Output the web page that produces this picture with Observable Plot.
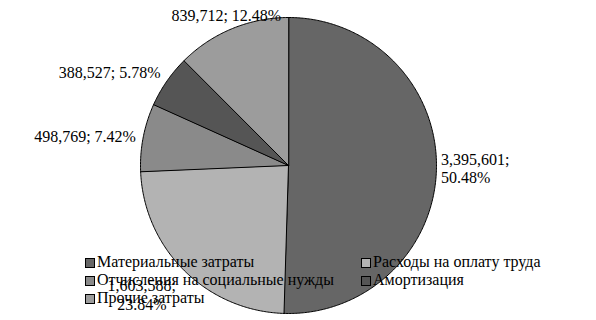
<!DOCTYPE html>
<html><head><meta charset="utf-8">
<script src="https://cdn.jsdelivr.net/npm/d3@7"></script>
<script src="https://cdn.jsdelivr.net/npm/@observablehq/plot@0.6"></script>
<style>
body{margin:0;background:#fff;}
#wrap{position:relative;width:596px;height:320px;overflow:hidden;}
.lg{position:absolute;font-size:16px;line-height:18px;color:#000;white-space:nowrap;}
.sw{position:absolute;left:0;top:5px;width:8px;height:8px;border:1px solid #000;}
.lt{position:absolute;left:12px;top:0;}
</style>
</head><body><div id="wrap" style="font-family:'Liberation Serif'"></div>
<script>
const categories = ["Материальные затраты","Расходы на оплату труда","Отчисления на социальные нужды","Амортизация","Прочие затраты"];
const values = [3395601, 1603588, 498769, 388527, 839712];
const colors = ["#666666","#b3b3b3","#8a8a8a","#555555","#9c9c9c"];
const legendOrder = [0,1,2,3,4];

// label placement (radius factor, angle shift in degrees, anchor, line break)
const labelLayout = [
  {r:1.03, shift:0, anchor:"start", br:true},
  {r:1.32, shift:4, anchor:"middle", br:true},
  {r:1.05, shift:0, anchor:"end", br:false},
  {r:1.07, shift:1.5, anchor:"end", br:false},
  {r:1.1, shift:0, anchor:"middle", br:false}
];

const SERIF = "Liberation Serif";
const total = d3.sum(values);
const arcs = d3.pie().sort(null).value(d => d)(values);
const poly = [];
arcs.forEach((a, i) => {
  poly.push({cat: categories[i], x: 0, y: 0});
  const n = Math.max(2, Math.ceil((a.endAngle - a.startAngle) / 0.01));
  for (let k = 0; k <= n; k++) {
    const t = a.startAngle + (a.endAngle - a.startAngle) * k / n;
    poly.push({cat: categories[i], x: Math.sin(t), y: Math.cos(t)});
  }
});
const fmtN = d3.format(",");
const fmtP = v => (v * 100).toFixed(2) + "%";
const labels = arcs.map((a, i) => {
  const L = labelLayout[i];
  const m = (a.startAngle + a.endAngle) / 2 + L.shift * Math.PI / 180;
  return {
    x: L.r * Math.sin(m), y: L.r * Math.cos(m), anchor: L.anchor,
    text: fmtN(values[i]) + ";" + (L.br ? "\n" : " ") + fmtP(values[i] / total)
  };
});

const font = {fontFamily: SERIF, fontSize: 16, fill: "#000", lineHeight: 1.15};
const chart = Plot.plot({
  width: 596, height: 320,
  marginLeft: 140, marginRight: 160, marginTop: 17, marginBottom: 7,
  x: {domain: [-1, 1], axis: null},
  y: {domain: [-1, 1], axis: null},
  color: {domain: categories, range: colors},
  style: {background: "#fff", fontFamily: SERIF},
  marks: [
    Plot.line(poly, {x: "x", y: "y", z: "cat", fill: "cat", stroke: "#000", strokeWidth: 1, curve: "linear-closed"}),
    ...["start", "middle", "end"].map(an =>
      Plot.text(labels.filter(d => d.anchor === an), {x: "x", y: "y", text: "text", textAnchor: an, lineAnchor: "middle", ...font}))
  ]
});
const wrap = document.getElementById("wrap");
wrap.appendChild(chart);

const pos = [[85,253],[361,253],[85,271],[361,271],[85,289]];
legendOrder.forEach((i, k) => {
  const d = document.createElement("div");
  d.className = "lg";
  d.style.left = pos[k][0] + "px";
  d.style.top = pos[k][1] + "px";
  d.style.fontFamily = "'Liberation Serif'";
  const sw = document.createElement("span");
  sw.className = "sw";
  sw.style.background = colors[i];
  const lt = document.createElement("span");
  lt.className = "lt";
  lt.textContent = categories[i];
  d.appendChild(sw); d.appendChild(lt);
  wrap.appendChild(d);
});
</script>
</body></html>
